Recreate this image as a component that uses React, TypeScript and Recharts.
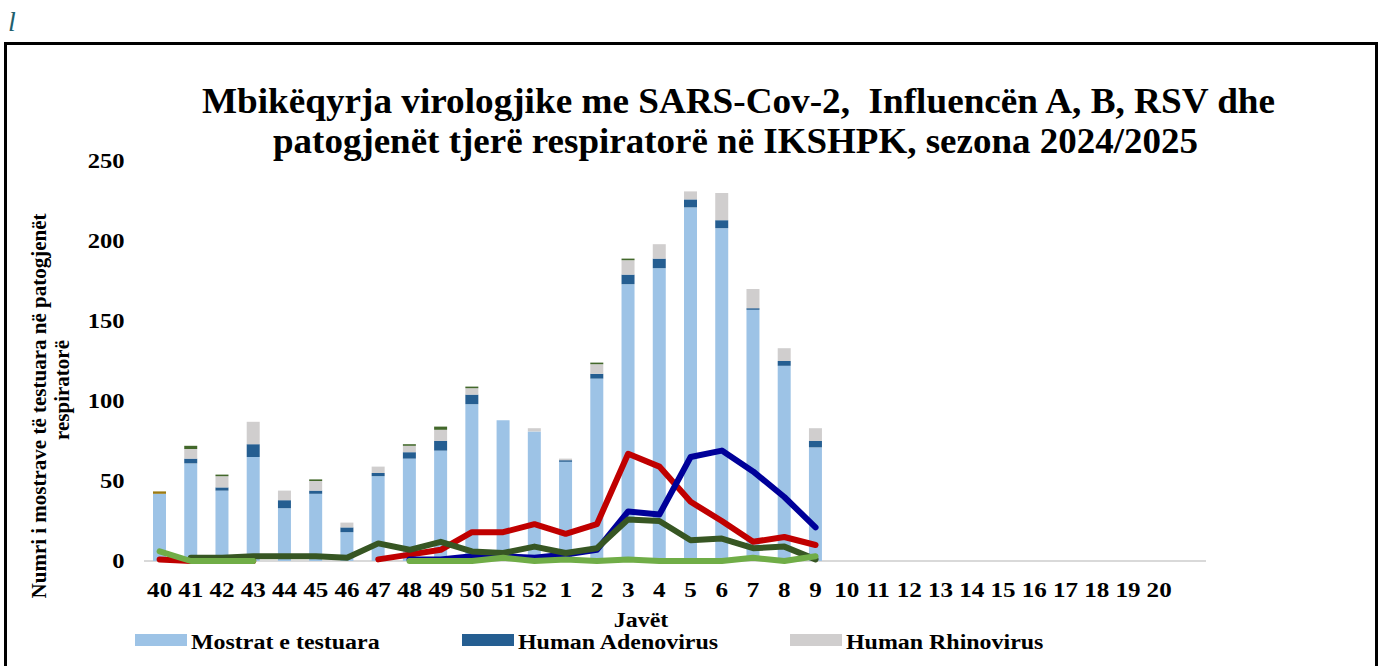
import React from 'react';
import { ComposedChart, Bar, Line, XAxis, YAxis } from 'recharts';

const weeks = ['40','41','42','43','44','45','46','47','48','49','50','51','52','1','2','3','4','5','6','7','8','9','10','11','12','13','14','15','16','17','18','19','20',''];

const mostrat = [42,61,44,65,33,42,18,53,64,69,98,88,81,62,114,173,183,221,208,157,122,71];
const adenovirus = [0,3,2,8,5,2,3,2,4,6,6,0,0,1,3,6,6,5,5,1,3,4];
const rhinovirus = [0,6,7,14,6,6,3,4,4,7,4,0,2,1,6,9,9,5,17,12,8,8];
const metapneumovirus = [0,2,1,0,0,1,0,0,1,2,1,0,0,0,1,1,0,0,0,0,0,0];
const parainfluenza = [1.5,0,0,0,0,0,0,0,0,0,0,0,0,0,0,0,0,0,0,0,0,0];

const influenzaA = [1,0,0,0,null,null,null,1,4,7,18,18,23,17,23,67,59,37,25,12,15,10];
const influenzaB = [null,null,null,null,null,null,null,null,1,1,3,3,2,4,7,31,29,65,69,56,40,21];
const sarsCov2 = [null,2,2,3,3,3,2,11,7,12,6,5,9,5,8,26,25,13,14,8,9,1];
const rsv = [6,0,0,0,null,null,null,null,0,0,0,2,0,1,0,1,0,0,0,2,0,3];

const yTicks = [0,50,100,150,200,250];

const at = (arr: (number | null)[], i: number) => (i < arr.length ? arr[i] : null);

const data = weeks.map((w, i) => ({
  week: w,
  mostrat: at(mostrat, i),
  adenovirus: at(adenovirus, i),
  rhinovirus: at(rhinovirus, i),
  metapneumovirus: at(metapneumovirus, i),
  parainfluenza: at(parainfluenza, i),
  influenzaA: at(influenzaA, i),
  influenzaB: at(influenzaB, i),
  sarsCov2: at(sarsCov2, i),
  rsv: at(rsv, i),
}));

const FONT = '"Liberation Serif", "Times New Roman", serif';

const XTick = (props: any) => {
  const { x, payload } = props;
  return (
    <text transform={`translate(${x},597) scale(1.14,1)`} textAnchor="middle" fontSize={22} fontWeight="bold" fontFamily={FONT} fill="#000">
      {payload.value}
    </text>
  );
};

const YTick = (props: any) => {
  const { y, payload } = props;
  return (
    <text transform={`translate(124.5,${y + 7}) scale(1.17,1)`} textAnchor="end" fontSize={21} fontWeight="bold" fontFamily={FONT} fill="#000">
      {payload.value}
    </text>
  );
};

const legendItems = [
  { name: 'Mostrat e testuara', color: '#9DC3E6', x: 135 },
  { name: 'Human Adenovirus', color: '#255E91', x: 462 },
  { name: 'Human Rhinovirus', color: '#D0CECE', x: 790 },
];

const lineProps = { type: 'linear' as const, strokeWidth: 6, strokeLinecap: 'round' as const, strokeLinejoin: 'round' as const, dot: false, isAnimationActive: false };

export default function App() {
  return (
    <div style={{ position: 'absolute', left: 0, top: 0, width: 1381, height: 666, overflow: 'hidden', background: '#fff' }}>
      <div style={{ position: 'absolute', left: 4, top: 42, width: 1368, height: 700, border: '3px solid #000' }} />
      <svg width={1381} height={666} style={{ position: 'absolute', left: 0, top: 0 }}>
        <line x1={144} x2={1206} y1={561} y2={561} stroke="#D9D9D9" strokeWidth={2} />
      </svg>
      <div style={{ position: 'absolute', left: 0, top: 0 }}>
        <ComposedChart width={1381} height={666} data={data} margin={{ top: 161, right: 175, bottom: 75, left: 84 }} barCategoryGap={0}>
          <XAxis dataKey="week" interval={0} tickLine={false} axisLine={false} tick={<XTick />} height={30} />
          <YAxis domain={[0, 250]} ticks={yTicks} axisLine={false} tickLine={false} tick={<YTick />} width={60} />
          <Bar dataKey="mostrat" name="Mostrat e testuara" stackId="a" fill="#9DC3E6" barSize={13} isAnimationActive={false} />
          <Bar dataKey="adenovirus" name="Human Adenovirus" stackId="a" fill="#255E91" barSize={13} isAnimationActive={false} />
          <Bar dataKey="rhinovirus" name="Human Rhinovirus" stackId="a" fill="#D0CECE" barSize={13} isAnimationActive={false} />
          <Bar dataKey="metapneumovirus" name="Human Metapneumovirus" stackId="a" fill="#43682B" barSize={13} isAnimationActive={false} />
          <Bar dataKey="parainfluenza" name="Human Parainfluenza" stackId="a" fill="#9C7A12" barSize={13} isAnimationActive={false} />
          <Line dataKey="influenzaA" name="Influenza A" stroke="#C00000" {...lineProps} />
          <Line dataKey="influenzaB" name="Influenza B" stroke="#000099" {...lineProps} />
          <Line dataKey="sarsCov2" name="SARS-CoV-2" stroke="#375623" {...lineProps} />
          <Line dataKey="rsv" name="RSV" stroke="#70AD47" {...lineProps} />
        </ComposedChart>
      </div>
      <svg width={1381} height={666} style={{ position: 'absolute', left: 0, top: 0, pointerEvents: 'none' }}>
        <text x={8} y={31} fontSize={28} fontStyle="italic" fontFamily={FONT} fill="#1F5F6E">l</text>
        <text x={202} y={113} fontSize={35} fontWeight="bold" fontFamily={FONT} textLength={1073} lengthAdjust="spacingAndGlyphs" style={{ whiteSpace: 'pre' }}>
          Mbikëqyrja virologjike me SARS-Cov-2,  Influencën A, B, RSV dhe
        </text>
        <text x={273} y={153} fontSize={35} fontWeight="bold" fontFamily={FONT} textLength={925} lengthAdjust="spacingAndGlyphs">
          patogjenët tjerë respiratorë në IKSHPK, sezona 2024/2025
        </text>
        <text transform="translate(46,406) rotate(-90)" textAnchor="middle" fontSize={21} fontWeight="bold" fontFamily={FONT}>
          Numri i mostrave të testuara në patogjenët
        </text>
        <text transform="translate(69,390) rotate(-90)" textAnchor="middle" fontSize={21} fontWeight="bold" fontFamily={FONT}>
          respiratorë
        </text>
        <text transform="translate(641,627) scale(1.14,1)" textAnchor="middle" fontSize={21} fontWeight="bold" fontFamily={FONT}>
          Javët
        </text>
        {legendItems.map((it) => (
          <g key={it.name}>
            <rect x={it.x} y={634} width={52} height={12} fill={it.color} />
            <text transform={`translate(${it.x + 56},649) scale(1.14,1)`} fontSize={21} fontWeight="bold" fontFamily={FONT}>
              {it.name}
            </text>
          </g>
        ))}
      </svg>
    </div>
  );
}
